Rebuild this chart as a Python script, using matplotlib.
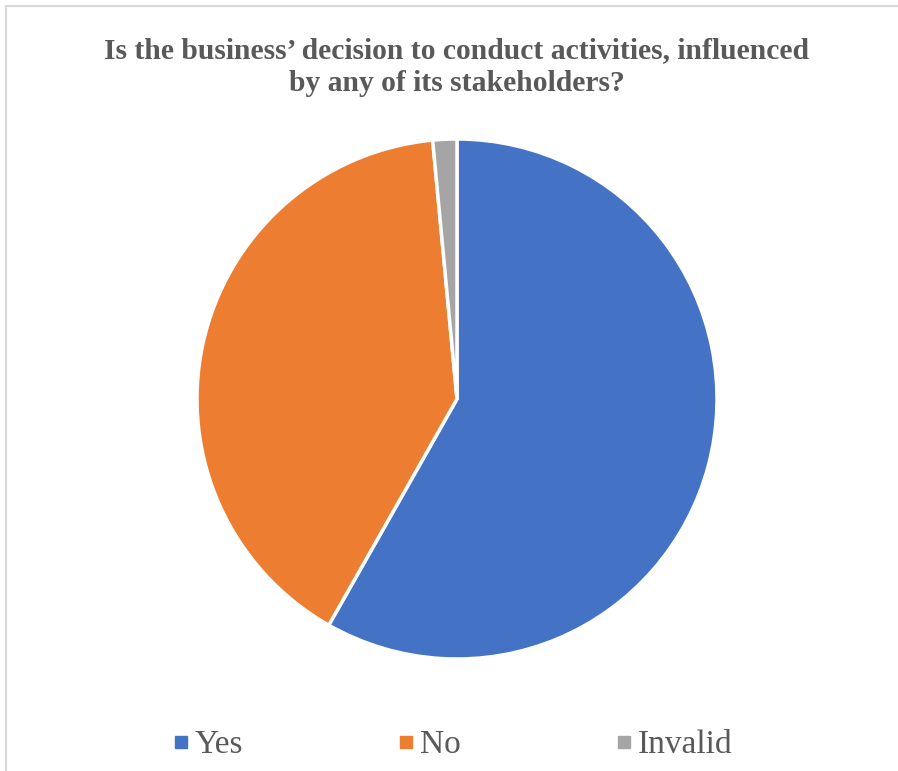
import matplotlib.pyplot as plt
from matplotlib.patches import Rectangle
from matplotlib.lines import Line2D

# --- survey answers ---
labels = ["Yes", "No", "Invalid"]
counts = [39, 27, 1]
colors = ["#4472C4", "#ED7D31", "#A5A5A5"]

TITLE = "Is the business\u2019 decision to conduct activities, influenced\nby any of its stakeholders?"

plt.rcParams['font.family'] = ['Liberation Serif', 'DejaVu Serif']

fig = plt.figure(figsize=(8.98, 7.71), dpi=100)

# light grey chart-area border (only top and left edges fall inside the image)
fig.patches.append(Rectangle((6 / 898, -0.1), 1.2, 1 - 6 / 771 + 0.1,
                             transform=fig.transFigure, fill=False,
                             edgecolor="#D9D9D9", linewidth=1.5))

# pie: centre (457, 399), radius ~260 px
r = 260
ax = fig.add_axes([(457 - r) / 898, 1 - (399 + r) / 771, 2 * r / 898, 2 * r / 771])
ax.pie(counts, colors=colors, startangle=90, counterclock=False,
       wedgeprops=dict(edgecolor="white", linewidth=2.5))
ax.set_aspect("equal")
ax.set_xlim(-1, 1)
ax.set_ylim(-1, 1)

fig.text(457 / 898, 1 - 67 / 771, TITLE, ha="center", va="center",
         fontsize=21.3, fontweight="bold", color="#595959", linespacing=1.3)

# legend along the bottom
handles = [Line2D([], [], marker="s", linestyle="none", markersize=8.6,
                  markerfacecolor=c, markeredgecolor=c) for c in colors]
fig.legend(handles, labels, loc="center left", bbox_to_anchor=(175 / 898, 1 - 745 / 771),
           ncol=3, frameon=False, fontsize=24, labelcolor="#595959",
           borderpad=0, borderaxespad=0,
           columnspacing=4.7, handletextpad=0.24, handlelength=0.36)

fig.savefig("out.png", dpi=100)
